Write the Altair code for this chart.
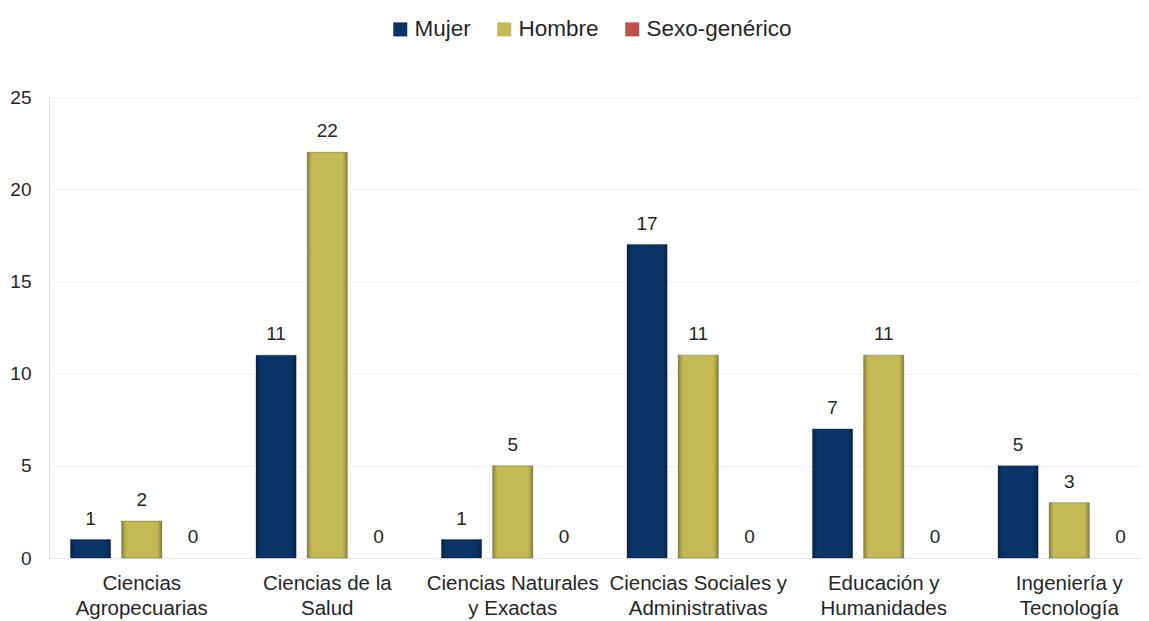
import altair as alt
import pandas as pd

categorias = [
    "Ciencias|Agropecuarias",
    "Ciencias de la|Salud",
    "Ciencias Naturales|y Exactas",
    "Ciencias Sociales y|Administrativas",
    "Educación y|Humanidades",
    "Ingeniería y|Tecnología",
]
series = ["Mujer", "Hombre", "Sexo-genérico"]
mujer = [1, 11, 1, 17, 7, 5]
hombre = [2, 22, 5, 11, 11, 3]
sexo_generico = [0, 0, 0, 0, 0, 0]
colores = ["#0A3366", "#C3BA55", "#C0504D"]

rows = []
for s, vals in zip(series, [mujer, hombre, sexo_generico]):
    for c, v in zip(categorias, vals):
        rows.append({"cat": c, "serie": s, "valor": v})
df = pd.DataFrame(rows)

FONT = "Liberation Sans"
TXT = "#262626"

x = alt.X("cat:N", sort=categorias, title=None,
          scale=alt.Scale(paddingInner=0, paddingOuter=0, range=[0, 1113]),
          axis=alt.Axis(labelAngle=0, labelExpr="split(datum.label, '|')",
                        labelFont=FONT, labelFontSize=20.5, labelColor=TXT,
                        labelLineHeight=25, labelPadding=15, labelBaseline="top",
                        ticks=False, domain=True, domainColor="#E6E6E6",
                        grid=False))
xo = alt.XOffset("serie:N", sort=series,
                 scale=alt.Scale(paddingInner=0.216, paddingOuter=0.42))
y = alt.Y("valor:Q", title=None,
          scale=alt.Scale(domain=[0, 25], nice=False),
          axis=alt.Axis(values=[0, 5, 10, 15, 20, 25], labelFont=FONT,
                        labelFontSize=19, labelColor=TXT, labelPadding=18,
                        ticks=False, domain=False, grid=True,
                        gridColor="#F1F1F1"))

base = alt.Chart(df)

bars = base.mark_bar(stroke="#00000040", strokeWidth=1).encode(
    x=x, xOffset=xo, y=y,
    color=alt.Color("serie:N", sort=series,
                    scale=alt.Scale(domain=series, range=colores),
                    legend=alt.Legend(title=None, orient="none",
                                      direction="horizontal",
                                      legendX=340, legendY=-79,
                                      symbolType="square", symbolSize=196,
                                      symbolStrokeWidth=0,
                                      labelFont=FONT, labelFontSize=22.5,
                                      labelColor=TXT, labelOffset=3,
                                      columnPadding=22)),
).transform_filter("datum.valor > 0")

# bevel-like shading on the sides of each bar
shade = base.mark_bar(
    color={"gradient": "linear", "x1": 0, "x2": 1, "y1": 0, "y2": 0,
           "stops": [{"offset": 0, "color": "rgba(0,0,0,0.28)"},
                     {"offset": 0.12, "color": "rgba(0,0,0,0.0)"},
                     {"offset": 0.88, "color": "rgba(0,0,0,0.0)"},
                     {"offset": 1, "color": "rgba(0,0,0,0.28)"}]}
).encode(x=x, xOffset=xo, y=y).transform_filter("datum.valor > 0")

labels = base.mark_text(font=FONT, fontSize=19, color=TXT,
                        baseline="middle", dy=-21).encode(
    x=x, xOffset=xo, y=y, text=alt.Text("valor:Q"),
)

chart = alt.layer(bars, shade, labels).properties(
    width=1092, height=461,
    autosize=alt.AutoSizeParams(type="none"),
    padding={"left": 41, "top": 89, "right": 0, "bottom": 65},
).configure_view(stroke=None).configure(background="white")

chart.save("out.html", embed_options={"renderer": "svg", "actions": False})
